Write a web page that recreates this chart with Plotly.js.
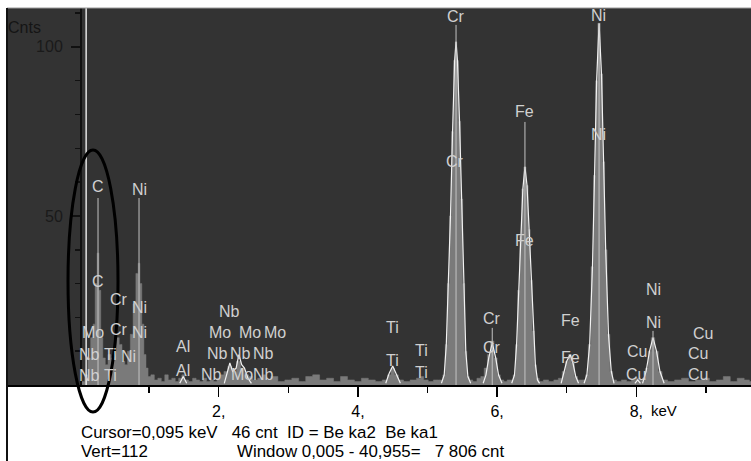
<!DOCTYPE html>
<html><head><meta charset="utf-8">
<script src="https://cdn.plot.ly/plotly-3.0.1.min.js"></script>
<style>html,body{margin:0;padding:0;background:#fff}#chart{width:751px;height:461px}</style>
</head><body><div id="chart"></div>
<script>
// ---- data ----
const spectrumKeV = [0.00,0.05,0.10,0.14,0.18,0.21,0.24,0.266,0.29,0.32,0.35,0.39,0.43,0.47,0.51,0.55,0.59,0.63,0.67,0.71,0.75,0.79,0.83,0.855,0.88,0.91,0.94,0.97,1.00,1.05,1.10,1.15,1.20,1.25,1.30,1.35,1.40,1.45,1.49,1.53,1.60,1.65,1.70,1.75,1.80,1.85,1.90,1.95,2.00,2.05,2.10,2.16,2.22,2.29,2.34,2.40,2.46,2.52,2.60,2.65,2.70,2.80,2.90,3.00,3.10,3.20,3.30,3.40,3.50,3.60,3.70,3.80,3.90,4.00,4.10,4.20,4.30,4.40,4.45,4.50,4.55,4.61,4.70,4.80,4.88,4.92,4.97,5.05,5.12,5.20,5.24,5.27,5.30,5.33,5.36,5.39,5.41,5.43,5.46,5.49,5.52,5.55,5.58,5.62,5.68,5.74,5.79,5.84,5.88,5.93,5.98,6.02,6.07,6.12,6.17,6.21,6.25,6.28,6.31,6.34,6.37,6.40,6.43,6.46,6.49,6.52,6.55,6.58,6.63,6.70,6.78,6.85,6.91,6.96,7.00,7.05,7.09,7.13,7.18,7.25,7.29,7.33,7.37,7.40,7.43,7.465,7.50,7.53,7.56,7.60,7.64,7.68,7.75,7.82,7.90,7.96,8.02,8.07,8.11,8.15,8.19,8.24,8.29,8.34,8.40,8.50,8.60,8.70,8.80,8.90,9.00,9.10,9.20,9.30,9.40,9.50,9.60,9.65];
const spectrumCnt = [0,1,3,8,14,18,30,39,28,14,8,6,9,8,10,14,12,7,6,10,15,24,33,36,30,18,9,5,2.5,3,1.5,2,1,3,1.5,2,1,2,3,1.5,1,2,1.5,1,2,1,1.5,1,2,3,4,5.5,4,7,5,3,2.5,1.5,2,3,1.5,2.5,1,1.5,2,1,2.5,3,1.5,2,1,2.5,1.5,1,2,1.5,1,1.5,3,5,3,1.5,1,1.5,2,2.5,1.5,1,1.5,1.5,3,12,30,50,75,96,101.5,96,78,55,30,10,2.5,1.5,1,2,2.5,5,9,13,8,3,1.5,1,1.5,1.5,3,12,28,44,58,64.5,59,46,31,16,6,2,1,1.5,1,1.5,2,4,7,9,6.5,2.5,1.5,1.5,3,12,35,62,90,107,92,66,40,15,4,1.5,1,1.5,1,1.5,2,1.5,2,5,10,14,10,4,1.5,1,1.5,2,1,1.5,2,1,1.5,2.5,1,2,1.5,1];

// fitted outline (white), segments separated by null
const fitKeV = [5.20,5.24,5.27,5.30,5.33,5.36,5.39,5.41,5.43,5.46,5.49,5.52,5.55,5.58,5.62,null,
  5.80,5.84,5.88,5.93,5.98,6.02,6.07,null,
  6.21,6.25,6.28,6.31,6.34,6.37,6.40,6.43,6.46,6.49,6.52,6.55,6.58,6.61,null,
  6.92,6.96,7.00,7.05,7.09,7.13,7.17,null,
  7.25,7.29,7.33,7.37,7.40,7.43,7.465,7.50,7.53,7.56,7.60,7.64,7.68,null,
  8.09,8.14,8.19,8.24,8.29,8.34,8.40,null,
  4.40,4.45,4.50,4.55,4.61,null,
  2.08,2.13,2.16,2.20,2.25,2.29,2.33,2.37,2.42,2.47,null,
  1.44,1.49,1.54,null,
  7.98,8.02,8.06];
const fitCnt = [0.5,3,12,30,50,75,96,101.5,96,78,55,30,10,2.5,0.5,null,
  0.5,3,8,12.4,8,3,0.5,null,
  0.5,3,12,28,44,58,64.5,59,46,31,16,6,1.5,0.5,null,
  0.5,3.5,7,9,6.5,2.5,0.5,null,
  0.5,3,12,35,62,90,107,92,66,40,15,4,0.5,null,
  0.5,4,10,14,10,4,0.5,null,
  0.5,3.5,5.6,3.5,0.5,null,
  0.5,4,6.5,4,5,9,6,5,2,0.5,null,
  0.5,2.5,0.5,null,
  0.5,1.5,0.5];

// KLM marker lines: energy and top (counts)
const markerKeV = [0.266,0.855,5.41,5.93,6.40,7.465,8.24];
const markerTop = [55.3,55.3,106.5,16.9,77.8,106.5,16.0];

const cursorKeV = 0.095;
const vertMax = 111.5;

// peak labels
const labelText = ["Cr","Ni","Cr","Fe","Ni","Fe","C","Ni","C","Cr","Ni","Mo","Cr","Ni","Nb","Ti","Ni","Nb","Ti","Al","Al","Nb","Mo","Mo","Mo","Nb","Nb","Nb","Nb","Mo","Nb","Ti","Ti","Ti","Ti","Cr","Cr","Fe","Fe","Ni","Ni","Cu","Cu","Cu","Cu","Cu"];
const labelKeV  = [5.41,7.45,5.40,6.39,7.45,6.39,0.266,0.855,0.266,0.57,0.855,0.19,0.57,0.855,0.15,0.45,0.71,0.15,0.45,1.49,1.49,2.16,2.02,2.45,2.81,1.98,2.31,2.65,1.90,2.33,2.65,4.50,4.50,4.92,4.92,5.93,5.93,7.05,7.05,8.24,8.24,8.01,8.00,8.96,8.89,8.89];
const labelCnt  = [108.9,109.2,66.0,80.8,74.0,42.6,58.6,57.7,30.5,25.4,22.8,15.4,16.3,15.4,8.9,8.9,8.3,2.7,2.7,11.5,4.4,21.6,15.4,15.4,15.4,9.2,9.2,9.2,3.0,3.0,3.0,16.9,7.1,10.1,3.6,19.8,11.2,19.2,8.0,28.1,18.6,9.8,3.2,15.1,9.2,3.0];

const xTickVals = [2,4,6,8];
const xTickText = ["2,","4,","6,","8,"];
const xMinorVals = [1,3,5,7,9];
const yTickVals = [50,100];
const yMinorVals = [10,20,30,40,60,70,80,90,110];

const NB = "\u00A0";
const statusLine1 = "Cursor=0,095 keV" + NB + NB + " 46 cnt" + NB + " ID = Be ka2" + NB + " Be ka1";
const statusVert = "Vert=112";
const statusWindow = "Window 0,005 - 40,955=" + NB + NB + " 7 806 cnt";

// ---- drawing ----
const FONT = "'Liberation Sans',Arial,sans-serif";
const W = 751, H = 461, L = 7, T = 8, B = 76;
const pw = W - L, ph = H - T - B;
const px = x => (x - L) / pw;
const py = y => (H - B - y) / ph;

const mx = [], my = [];
markerKeV.forEach((e, i) => { mx.push(e, e, null); my.push(0, markerTop[i], null); });

const traces = [
  {x: spectrumKeV, y: spectrumCnt, type: 'scatter', mode: 'lines', fill: 'tozeroy',
   fillcolor: '#7a7a7a', line: {color: '#7a7a7a', width: 0.5, shape: 'hvh'}, hoverinfo: 'skip'},
  {x: fitKeV, y: fitCnt, type: 'scatter', mode: 'lines', connectgaps: false,
   line: {color: '#f2f2f2', width: 1.2}, hoverinfo: 'skip'},
  {x: mx, y: my, type: 'scatter', mode: 'lines', connectgaps: false,
   line: {color: '#c4c4c4', width: 1}, hoverinfo: 'skip'},
  {x: [cursorKeV, cursorKeV], y: [0, vertMax], type: 'scatter', mode: 'lines',
   line: {color: '#ffffff', width: 1.3}, hoverinfo: 'skip'}
];

const ann = labelText.map((t, i) => ({
  text: t, x: labelKeV[i], y: labelCnt[i], xref: 'x', yref: 'y',
  showarrow: false, xanchor: 'center', yanchor: 'middle',
  font: {family: FONT, size: 16, color: '#d0d0d0'}
}));
function txt(t, xpx, ypx, size, color) {
  ann.push({text: t, x: px(xpx), y: py(ypx), xref: 'paper', yref: 'paper', showarrow: false,
    xanchor: 'left', yanchor: 'middle', borderpad: 0,
    font: {family: FONT, size: size, color: color || '#000'}});
}
txt("Cnts", 7, 27, 16, '#151515');
txt("keV", 650, 410, 15);
txt(statusLine1, 80, 432, 16.9);
txt(statusVert, 80, 451, 16.9);
txt(statusWindow, 236, 451, 16.9);

const layout = {
  width: W, height: H, margin: {l: L, r: 0, t: T, b: B, pad: 0},
  paper_bgcolor: '#ffffff', plot_bgcolor: '#333333', showlegend: false,
  xaxis: {range: [-1.042, 9.648], showgrid: false, zeroline: false, showline: true,
    linecolor: '#000', linewidth: 2, ticks: 'outside', tickmode: 'array',
    tickvals: xTickVals, ticktext: xTickText, ticklen: 10, tickwidth: 1.5, tickcolor: '#000',
    minor: {tickmode: 'array', tickvals: xMinorVals, ticks: 'outside', ticklen: 6, tickwidth: 1.5, tickcolor: '#000'},
    tickfont: {family: FONT, size: 16, color: '#000'}, ticklabelstandoff: 1},
  yaxis: {range: [0, vertMax], anchor: 'free', position: px(81), side: 'left',
    showgrid: false, zeroline: false, showline: true, linecolor: '#111', linewidth: 2,
    ticks: 'outside', tickmode: 'array', tickvals: yTickVals, ticklen: 9, tickwidth: 1.5, tickcolor: '#111',
    minor: {tickmode: 'array', tickvals: yMinorVals, ticks: 'outside', ticklen: 5, tickwidth: 1.5, tickcolor: '#111'},
    tickfont: {family: FONT, size: 16, color: '#1a1a1a'}, ticklabelstandoff: 5},
  annotations: ann,
  shapes: [
    {type: 'line', xref: 'paper', yref: 'paper', x0: 0, x1: 1, y0: 1, y1: 1, line: {color: '#9a9a9a', width: 1}},
    {type: 'line', xref: 'paper', yref: 'paper', x0: 0, x1: 0, y0: py(461), y1: 1, line: {color: '#111', width: 2}},
    {type: 'circle', xref: 'paper', yref: 'paper', x0: px(68), x1: px(118), y0: py(412), y1: py(150),
     line: {color: '#000', width: 3}, layer: 'above'}
  ]
};
Plotly.newPlot('chart', traces, layout, {staticPlot: true, displayModeBar: false});
</script></body></html>
